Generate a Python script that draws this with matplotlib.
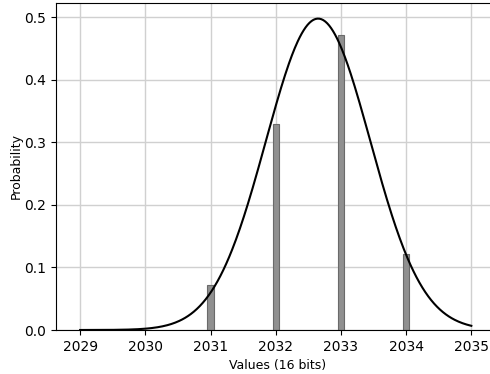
import numpy as np
import matplotlib
matplotlib.use("Agg")
import matplotlib.pyplot as plt

values = [2031, 2032, 2033, 2034]
probs = [0.072, 0.330, 0.472, 0.122]
x_ticks = [2029, 2030, 2031, 2032, 2033, 2034, 2035]

# normal curve parameters (peak ~0.498 at ~2032.65)
mu = 2032.65
sigma = 0.801

fig = plt.figure(figsize=(4.9, 3.74), dpi=100)
W, H = 490, 374
left, right, top, bottom = 56, 500, 3, 330
ax = fig.add_axes([left / W, 1 - bottom / H, (right - left) / W, (bottom - top) / H])

ax.bar(values, probs, width=0.095, color="#909090", edgecolor="#6a6a6a", linewidth=0.8, zorder=2)
xs = np.linspace(2029, 2035, 400)
pdf = np.exp(-0.5 * ((xs - mu) / sigma) ** 2) / (sigma * np.sqrt(2 * np.pi))
ax.plot(xs, pdf, color="black", linewidth=1.5, zorder=3)

ax.set_xlim(2028.63, 2035.44)
ax.set_ylim(0, 0.523)
ax.set_xticks(x_ticks)
ax.set_yticks([0.0, 0.1, 0.2, 0.3, 0.4, 0.5])
ax.grid(True, color="#d0d0d0", linewidth=1.0, zorder=0)
ax.set_axisbelow(True)
ax.tick_params(labelsize=10)
ax.set_xlabel("Values (16 bits)", fontsize=9)
ax.set_ylabel("Probability", fontsize=9, labelpad=1)

fig.savefig("out.png", dpi=100)
